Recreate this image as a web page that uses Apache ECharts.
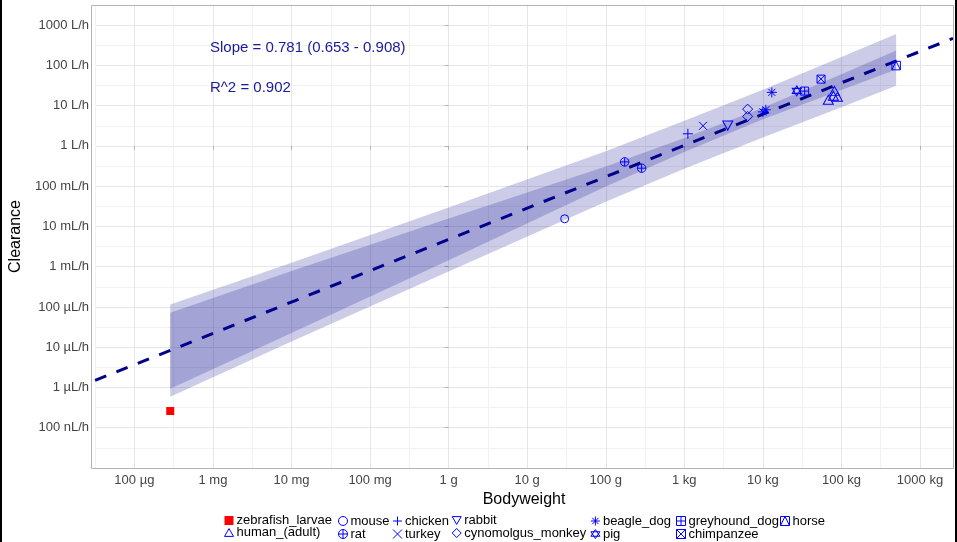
<!DOCTYPE html>
<html><head><meta charset="utf-8">
<script src="https://cdn.jsdelivr.net/npm/echarts@6/dist/echarts.min.js"></script>
<style>html,body{margin:0;padding:0;background:#fff}#c{width:957px;height:542px}</style>
</head><body><div id="c"></div>
<script>
// ---------------- data ----------------
const speciesNames = ['zebrafish_larvae','mouse','chicken','rabbit','beagle_dog','greyhound_dog','horse',
  'human_(adult)','rat','turkey','cynomolgus_monkey','pig','chimpanzee'];

const pointSpecies = ['zebrafish_larvae','mouse','rat','rat','chicken','turkey','rabbit',
  'cynomolgus_monkey','cynomolgus_monkey','beagle_dog','beagle_dog','beagle_dog','pig','greyhound_dog',
  'chimpanzee','human_(adult)','human_(adult)','human_(adult)','human_(adult)','horse'];
const pointBodyweightG = [2.86e-4, 30, 174, 286, 1110, 1730, 3570,
  6400, 6400, 13000, 10000, 10900, 27000, 34000,
  55000, 81500, 68000, 89000, 79000, 497000];
const pointClearanceLh = [2.6e-7, 0.0155, 0.40, 0.28, 2.0, 3.16, 3.2,
  8.2, 5.4, 21.4, 7.0, 7.9, 23.3, 23.0,
  45.6, 23.3, 14.0, 16.6, 17.6, 99];

// fitted line (end points read at the panel edges)
const lineBodyweightG = [3.16e-5, 2.63e6];
const lineClearanceLh = [1.5e-6, 470];

// interval ribbons
const bandBodyweightG = [2.86e-4, 0.01, 1, 100, 1000, 1e4, 1e5, 4.97e5];
const innerUpperLh = [7.2e-5, 7.8e-4, 0.0158, 0.309, 1.58, 8.9, 60, 234];
const innerLowerLh = [9.3e-7, 2.24e-5, 1.45e-3, 0.098, 0.71, 4.6, 24.5, 79];
const outerUpperLh = [1.15e-4, 1.26e-3, 0.0295, 0.74, 4.2, 25, 162, 600];
const outerLowerLh = [5.9e-7, 1.38e-5, 7.6e-4, 0.041, 0.27, 1.62, 9.1, 31];

const xTickGrams = [1e-4, 1e-3, 1e-2, 1e-1, 1, 10, 100, 1e3, 1e4, 1e5, 1e6];
const xTickLabels = ['100 µg','1 mg','10 mg','100 mg','1 g','10 g','100 g','1 kg','10 kg','100 kg','1000 kg'];
const yTickLh = [1e-7, 1e-6, 1e-5, 1e-4, 1e-3, 1e-2, 1e-1, 1, 10, 100, 1000];
const yTickLabels = ['100 nL/h','1 µL/h','10 µL/h','100 µL/h','1 mL/h','10 mL/h','100 mL/h','1 L/h','10 L/h','100 L/h','1000 L/h'];

const slopeText = 'Slope = 0.781 (0.653 - 0.908)';
const r2Text = 'R^2 = 0.902';
const xTitle = 'Bodyweight';
const yTitle = 'Clearance';
// -------------------------------------------------------------

const lg = Math.log10;
const FONT = "'Liberation Sans', Arial, sans-serif";
const BLUE = '#0000FF';
const CIRC = 'M0,10A10,10,0,1,1,20,10A10,10,0,1,1,0,10Z';
const SQ = 'M0,0L20,0L20,20L0,20Z';
const symbols = {
  'zebrafish_larvae': {s: 'rect', size: [8, 8], fill: '#FF0000', line: 0},
  'mouse': {s: 'path://' + CIRC, size: [8, 8]},
  'rat': {s: 'path://' + CIRC + 'M10,0L10,20M0,10L20,10', size: [8.5, 8.5]},
  'chicken': {s: 'path://M10,0L10,20M0,10L20,10', size: [10, 10]},
  'turkey': {s: 'path://M0,0L20,20M20,0L0,20', size: [8, 8]},
  'rabbit': {s: 'path://M0,0L20,0L10,17.3Z', size: [10, 9]},
  'cynomolgus_monkey': {s: 'path://M10,0L20,10L10,20L0,10Z', size: [10, 10]},
  'beagle_dog': {s: 'path://M10,0L10,20M0,10L20,10M3,3L17,17M17,3L3,17', size: [10, 10]},
  'pig': {s: 'path://M10,0L20,15L0,15ZM0,5L20,5L10,20Z', size: [9, 10]},
  'greyhound_dog': {s: 'path://' + SQ + 'M10,0L10,20M0,10L20,10', size: [8, 8]},
  'chimpanzee': {s: 'path://' + SQ + 'M0,0L20,20M20,0L0,20', size: [8, 8]},
  'human_(adult)': {s: 'path://M10,0L20,17.3L0,17.3Z', size: [10, 9]},
  'horse': {s: 'path://' + SQ + 'M0,20L10,0L20,20', size: [8.5, 8.5]}
};

function bandSeries(upper, lower) {
  return {
    type: 'custom', xAxisIndex: 0, yAxisIndex: 0, silent: true, z: 1,
    data: [[0, 0]],
    renderItem: function (params, api) {
      const pts = [];
      for (let i = 0; i < bandBodyweightG.length; i++) pts.push(api.coord([lg(bandBodyweightG[i]), lg(upper[i])]));
      for (let i = bandBodyweightG.length - 1; i >= 0; i--) pts.push(api.coord([lg(bandBodyweightG[i]), lg(lower[i])]));
      return {type: 'polygon', shape: {points: pts}, style: {fill: 'rgba(0,0,139,0.2)'}};
    }
  };
}

const series = [bandSeries(outerUpperLh, outerLowerLh), bandSeries(innerUpperLh, innerLowerLh)];
series.push({
  name: 'fit', type: 'line', xAxisIndex: 0, yAxisIndex: 0, z: 2, silent: true,
  showSymbol: false, symbol: 'none',
  data: lineBodyweightG.map((b, i) => [lg(b), lg(lineClearanceLh[i])]),
  lineStyle: {color: '#00008B', width: 3, type: [12, 11], cap: 'butt'}
});
speciesNames.forEach(function (sp) {
  const sym = symbols[sp];
  const data = [];
  pointSpecies.forEach((p, i) => { if (p === sp) data.push([lg(pointBodyweightG[i]), lg(pointClearanceLh[i])]); });
  series.push({
    name: sp, type: 'scatter', xAxisIndex: 0, yAxisIndex: 0, z: 3,
    symbol: sym.s, symbolSize: sym.size, data: data,
    itemStyle: sym.fill ? {color: sym.fill, borderWidth: 0, opacity: 1}
                        : {color: 'none', borderColor: BLUE, borderWidth: 1, opacity: 1}
  });
});

const legendCols = [['zebrafish_larvae','human_(adult)'], ['mouse','rat'], ['chicken','turkey'],
  ['rabbit','cynomolgus_monkey'], ['beagle_dog','pig'], ['greyhound_dog','chimpanzee'], ['horse']];
const legendLefts = [222, 336, 390.5, 449.7, 588.4, 674, 778];
const legends = legendCols.map(function (col, ci) {
  return {
    orient: 'vertical', left: legendLefts[ci], top: 514, itemGap: -1, padding: 0,
    itemWidth: 9, itemHeight: 9, selectedMode: false,
    textStyle: {fontSize: 13, color: '#000', fontFamily: FONT, lineHeight: 13, padding: [0, 0, 0, -2]},
    data: col.map(function (n) {
      const sym = symbols[n];
      return {name: n, icon: sym.s,
        itemStyle: sym.fill ? {color: sym.fill, borderWidth: 0}
                            : {color: 'none', borderColor: BLUE, borderWidth: 1}};
    })
  };
});

const xTickLogs = xTickGrams.map(lg);
const yTickLogs = yTickLh.map(lg);
const labelStyle = {color: '#444444', fontSize: 13, fontFamily: FONT};

const chart = echarts.init(document.getElementById('c'), null, {renderer: 'canvas'});
chart.setOption({
  animation: false,
  backgroundColor: '#fff',
  grid: {left: 91, right: 4, top: 5, bottom: 74, containLabel: false},
  legend: legends,
  xAxis: [
    {type: 'value', min: -4.5, max: 6.42, interval: 0.5,
     axisLine: {show: false}, axisTick: {show: false}, axisLabel: {show: false},
     splitLine: {show: true, lineStyle: {color: '#F2F2F2', width: 1}}},
    {type: 'value', min: -4.5, max: 6.42, position: 'bottom',
     axisLine: {show: false},
     axisTick: {show: true, customValues: xTickLogs, length: 4, lineStyle: {color: '#B3B3B3'}},
     axisLabel: Object.assign({customValues: xTickLogs, margin: 6,
       formatter: v => xTickLabels[xTickLogs.findIndex(t => Math.abs(t - v) < 1e-6)] || ''}, labelStyle),
     splitLine: {show: true, lineStyle: {color: '#E6E6E6', width: 1}},
     name: xTitle, nameLocation: 'middle', nameGap: 20,
     nameTextStyle: {fontSize: 16, color: '#000', fontFamily: FONT}}
  ],
  yAxis: [
    {type: 'value', min: -8, max: 3.5, interval: 0.5,
     axisLine: {show: false}, axisTick: {show: false}, axisLabel: {show: false},
     splitLine: {show: true, lineStyle: {color: '#F2F2F2', width: 1}}},
    {type: 'value', min: -8, max: 3.5, position: 'left',
     axisLine: {show: false},
     axisTick: {show: true, customValues: yTickLogs, length: 4, lineStyle: {color: '#B3B3B3'}},
     axisLabel: Object.assign({customValues: yTickLogs, margin: 6,
       formatter: v => yTickLabels[yTickLogs.findIndex(t => Math.abs(t - v) < 1e-6)] || ''}, labelStyle),
     splitLine: {show: true, lineStyle: {color: '#E6E6E6', width: 1}},
     name: yTitle, nameLocation: 'middle', nameGap: 57, nameRotate: 90,
     nameTextStyle: {fontSize: 16, color: '#000', fontFamily: FONT}}
  ],
  graphic: [
    {type: 'rect', z: 100, silent: true, shape: {x: 91.5, y: 5.5, width: 862, height: 463},
     style: {fill: 'none', stroke: '#B3B3B3', lineWidth: 1}},
    {type: 'text', z: 100, x: 210, y: 48, silent: true,
     style: {text: slopeText, fill: '#1A1A9A', font: '15px ' + FONT, verticalAlign: 'middle'}},
    {type: 'text', z: 100, x: 210, y: 88, silent: true,
     style: {text: r2Text, fill: '#1A1A9A', font: '15px ' + FONT, verticalAlign: 'middle'}},
    {type: 'rect', z: 100, silent: true, shape: {x: 0, y: 0, width: 2, height: 542}, style: {fill: '#000'}},
    {type: 'rect', z: 100, silent: true, shape: {x: 955, y: 0, width: 2, height: 542}, style: {fill: '#000'}}
  ],
  series: series
});
</script></body></html>
